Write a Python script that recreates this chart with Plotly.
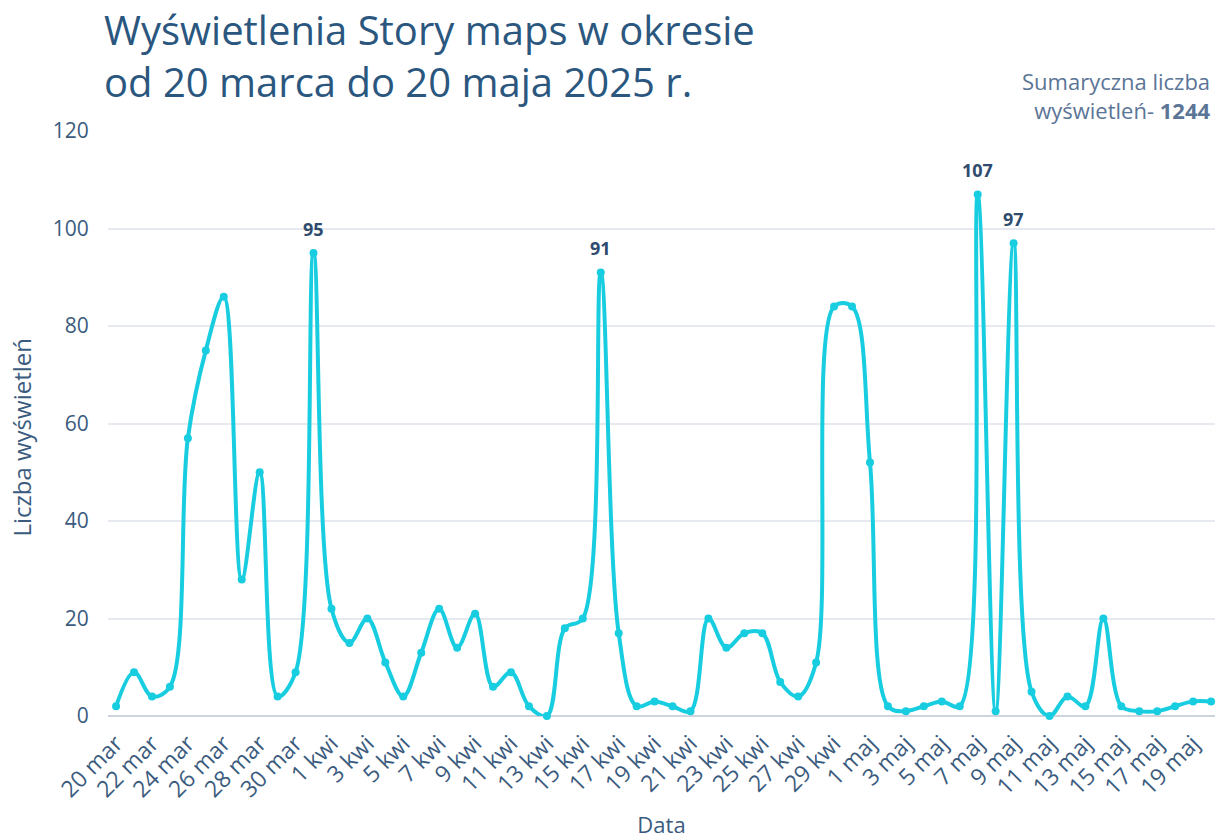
import plotly.graph_objects as go

dates = ["20 mar", "21 mar", "22 mar", "23 mar", "24 mar", "25 mar", "26 mar", "27 mar", "28 mar", "29 mar",
         "30 mar", "31 mar", "1 kwi", "2 kwi", "3 kwi", "4 kwi", "5 kwi", "6 kwi", "7 kwi", "8 kwi",
         "9 kwi", "10 kwi", "11 kwi", "12 kwi", "13 kwi", "14 kwi", "15 kwi", "16 kwi", "17 kwi", "18 kwi",
         "19 kwi", "20 kwi", "21 kwi", "22 kwi", "23 kwi", "24 kwi", "25 kwi", "26 kwi", "27 kwi", "28 kwi",
         "29 kwi", "30 kwi", "1 maj", "2 maj", "3 maj", "4 maj", "5 maj", "6 maj", "7 maj", "8 maj",
         "9 maj", "10 maj", "11 maj", "12 maj", "13 maj", "14 maj", "15 maj", "16 maj", "17 maj", "18 maj",
         "19 maj", "20 maj"]

views = [2, 9, 4, 6, 57, 75, 86, 28, 50, 4,
         9, 95, 22, 15, 20, 11, 4, 13, 22, 14,
         21, 6, 9, 2, 0, 18, 20, 91, 17, 2,
         3, 2, 1, 20, 14, 17, 17, 7, 4, 11,
         84, 84, 52, 2, 1, 2, 3, 2, 107, 1,
         97, 5, 0, 4, 2, 20, 2, 1, 1, 2,
         3, 3]

labelled = [11, 27, 48, 50]
total_text = "1244"

FONT = "Open Sans"
TITLE_C = "#2b577f"
DARK = "#2f4b6e"
MID = "#3b5b7e"
LINE = "#18cde0"

x = list(range(len(dates)))

fig = go.Figure()
fig.add_trace(go.Scatter(
    x=x, y=views,
    mode="lines+markers",
    line=dict(color=LINE, width=4, shape="spline", smoothing=1),
    marker=dict(color=LINE, size=8),
    cliponaxis=False,
    hoverinfo="x+y",
))

annotations = [
    dict(
        text="Wyświetlenia Story maps w okresie<br>od 20 marca do 20 maja 2025 r.",
        xref="paper", yref="paper", x=-0.005, y=1.0, xanchor="left", yanchor="bottom",
        yshift=20, align="left", showarrow=False,
        font=dict(family=FONT, size=40, color=TITLE_C),
    ),
    dict(
        text="Sumaryczna liczba<br>wyświetleń- <b>" + total_text + "</b>",
        xref="paper", yref="paper", x=0.998, y=1.0, xanchor="right", yanchor="bottom",
        yshift=4, align="right", showarrow=False,
        font=dict(family=FONT, size=22, color="#5b7596"),
    ),
    dict(
        text="Liczba wyświetleń",
        xref="paper", yref="paper", x=-0.078, y=0.477, xanchor="center", yanchor="middle",
        textangle=-90, showarrow=False,
        font=dict(family=FONT, size=24, color=MID),
    ),
]
for i in labelled:
    annotations.append(dict(
        text="<b>%d</b>" % views[i], x=x[i], y=views[i], xref="x", yref="y",
        xanchor="center", yanchor="bottom", yshift=10, showarrow=False,
        font=dict(family=FONT, size=18, color=DARK),
    ))

fig.update_layout(
    width=1218, height=839,
    paper_bgcolor="white", plot_bgcolor="white",
    margin=dict(l=108, r=3, t=131, b=123),
    showlegend=False,
    font=dict(family=FONT, color=MID),
    xaxis=dict(
        range=[-0.45, 61.22],
        tickmode="array",
        tickvals=x[::2],
        ticktext=dates[::2],
        tickangle=-45,
        tickfont=dict(family=FONT, size=23, color=MID),
        showgrid=False,
        showline=False,
        zeroline=False,
        automargin=False,
        ticks="outside", ticklen=4, tickcolor="rgba(0,0,0,0)",
        title=dict(text="Data", font=dict(family=FONT, size=22, color=MID), standoff=14),
    ),
    yaxis=dict(
        range=[0, 120],
        tickvals=[0, 20, 40, 60, 80, 100, 120],
        tickfont=dict(family=FONT, size=21, color=MID),
        showgrid=True, gridcolor="#e6e9ef", gridwidth=2,
        zeroline=True, zerolinecolor="#cdd4de", zerolinewidth=2,
        automargin=False,
        ticks="outside", ticklen=14, tickcolor="rgba(0,0,0,0)",
    ),
    annotations=annotations,
)

fig.write_html("out.html", config={"displayModeBar": False},
               post_script="document.body.style.margin='0';document.body.style.padding='0';")
